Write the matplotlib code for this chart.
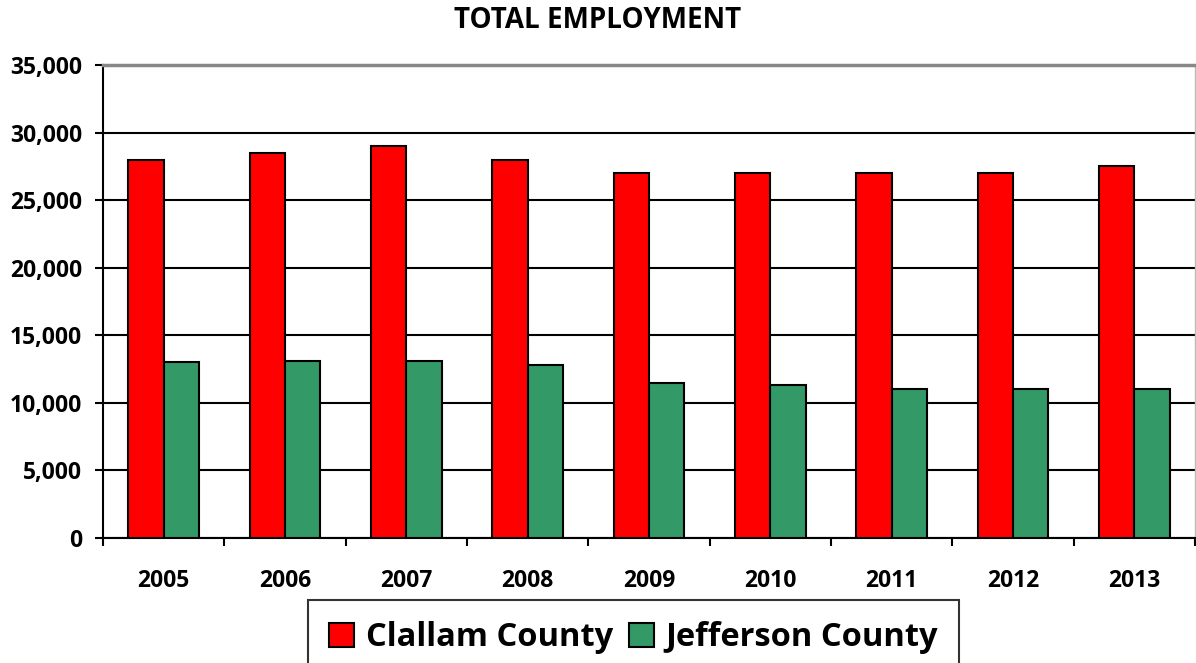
import numpy as np
import matplotlib.pyplot as plt
from matplotlib.patches import Patch

anos = ['2005', '2006', '2007', '2008', '2009', '2010', '2011', '2012', '2013']
clallam = [28000, 28500, 29000, 28000, 27000, 27000, 27000, 27000, 27500]
jefferson = [13000, 13100, 13100, 12800, 11500, 11300, 11000, 11000, 11000]

plt.rcParams['font.family'] = ['Open Sans', 'DejaVu Sans']
plt.rcParams['font.weight'] = 'bold'

fig = plt.figure(figsize=(11.96, 6.63), dpi=100)
ax = fig.add_axes([103 / 1196, 125 / 663, 1092 / 1196, 473 / 663])

x = np.arange(len(anos))
larg = 0.29
ax.bar(x - larg / 2, clallam, larg, color='#ff0000', edgecolor='black', linewidth=1.5, zorder=3)
ax.bar(x + larg / 2, jefferson, larg, color='#339966', edgecolor='black', linewidth=1.5, zorder=3)

ax.set_xlim(-0.5, len(anos) - 0.5)
ax.set_ylim(0, 35000)
ax.set_yticks(range(0, 35001, 5000))
ax.set_yticklabels([f'{v:,}' for v in range(0, 35001, 5000)], fontsize=16.5, fontweight='bold')
ax.set_xticks(x)
ax.set_xticklabels(anos, fontsize=16.5, fontweight='bold')
ax.set_xticks(np.arange(-0.5, len(anos), 1), minor=True)
ax.tick_params(axis='x', which='major', length=0, pad=22)
ax.tick_params(axis='x', which='minor', length=6, width=1.5, direction='out')
ax.tick_params(axis='y', length=6, width=1.5, direction='out', pad=9)

ax.grid(axis='y', color='black', linewidth=1.5, zorder=0)
ax.set_axisbelow(True)
ax.spines['left'].set_linewidth(1.5)
ax.spines['bottom'].set_linewidth(1.5)
ax.spines['top'].set_color('#888888')
ax.spines['top'].set_linewidth(2.5)
ax.spines['right'].set_color('#bbbbbb')
ax.spines['right'].set_linewidth(1)

fig.text(0.5, 1 - 20 / 663, 'TOTAL EMPLOYMENT', ha='center', va='center',
         fontsize=20, fontweight='bold')

# legenda cortada na borda de baixo, como no original
handles = [Patch(facecolor='#ff0000', edgecolor='black', linewidth=1.5, label='Clallam County'),
           Patch(facecolor='#339966', edgecolor='black', linewidth=1.5, label='Jefferson County')]
leg = fig.legend(handles=handles, loc='upper center', bbox_to_anchor=(633.5 / 1196, 1 - 600 / 663),
                 borderaxespad=0, ncol=2, frameon=True, fancybox=False, edgecolor='black',
                 prop={'size': 23.5, 'weight': 'bold'}, handlelength=0.77, handleheight=0.77,
                 handletextpad=0.35, columnspacing=0.5, borderpad=0.65)
leg.get_frame().set_linewidth(1.5)

fig.savefig('out.png', dpi=100)
